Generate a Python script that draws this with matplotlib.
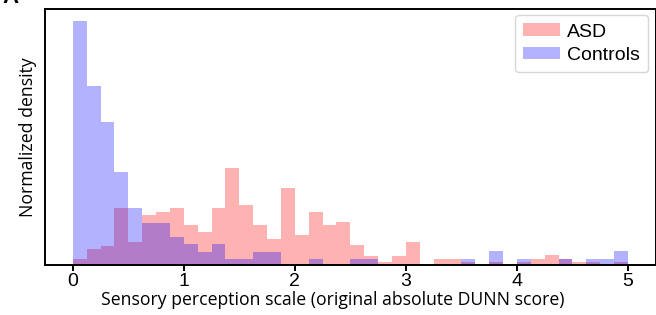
import numpy as np
import matplotlib
matplotlib.use("Agg")
import matplotlib.pyplot as plt

# bin edges: 40 bins of width 0.125 over the DUNN score range
bin_edges = np.linspace(0, 5, 41)
bin_centers = (bin_edges[:-1] + bin_edges[1:]) / 2

# normalized densities
asd_density = [0.045, 0.127, 0.153, 0.459, 0.181, 0.404, 0.431, 0.459, 0.322, 0.263,
               0.461, 0.790, 0.486, 0.322, 0.211, 0.624, 0.241, 0.431, 0.322, 0.349,
               0.157, 0.072, 0.020, 0.072, 0.184, 0.000, 0.045, 0.047, 0.019, 0.000,
               0.019, 0.000, 0.019, 0.047, 0.078, 0.047, 0.019, 0.019, 0.000, 0.019]
control_density = [1.982, 1.457, 1.163, 0.753, 0.459, 0.339, 0.339, 0.224, 0.165, 0.104,
                   0.167, 0.047, 0.047, 0.104, 0.104, 0.000, 0.000, 0.047, 0.000, 0.000,
                   0.047, 0.047, 0.000, 0.000, 0.000, 0.000, 0.000, 0.000, 0.049, 0.000,
                   0.108, 0.000, 0.049, 0.000, 0.000, 0.047, 0.000, 0.049, 0.049, 0.108]

x_ticks = [0, 1, 2, 3, 4, 5]

plt.rcParams["font.family"] = ["Liberation Sans", "DejaVu Sans"]

fig = plt.figure(figsize=(6.56, 3.15), dpi=100)
ax = fig.add_axes([0.0686, 0.160, 0.931, 0.811])

ax.hist(bin_centers, bins=bin_edges, weights=asd_density, color="red", alpha=0.3, label="ASD")
ax.hist(bin_centers, bins=bin_edges, weights=control_density, color="blue", alpha=0.3, label="Controls")

ax.set_xticks(x_ticks)
ax.set_xticklabels([str(t) for t in x_ticks], fontsize=14)
ax.set_yticks([])
ax.tick_params(axis="x", length=4, width=1.4, pad=2)
for sp in ax.spines.values():
    sp.set_linewidth(1.4)

label_font = dict(family=["Open Sans", "DejaVu Sans"], fontsize=12.7)
ax.set_xlabel("Sensory perception scale (original absolute DUNN score)", **label_font)
ax.xaxis.set_label_coords(0.471, -0.105)
ax.set_ylabel("Normalized density", labelpad=6, **label_font)

ax.legend(loc="upper right", bbox_to_anchor=(0.988, 0.976), borderaxespad=0, fontsize=14,
          handlelength=1.9, handleheight=0.62, handletextpad=0.38,
          borderpad=0.42, labelspacing=0.32, frameon=True)

fig.text(0.004, 1 - 3 / 315, "A", fontsize=16, fontweight="bold", va="baseline")

fig.savefig("out.png", dpi=100)
